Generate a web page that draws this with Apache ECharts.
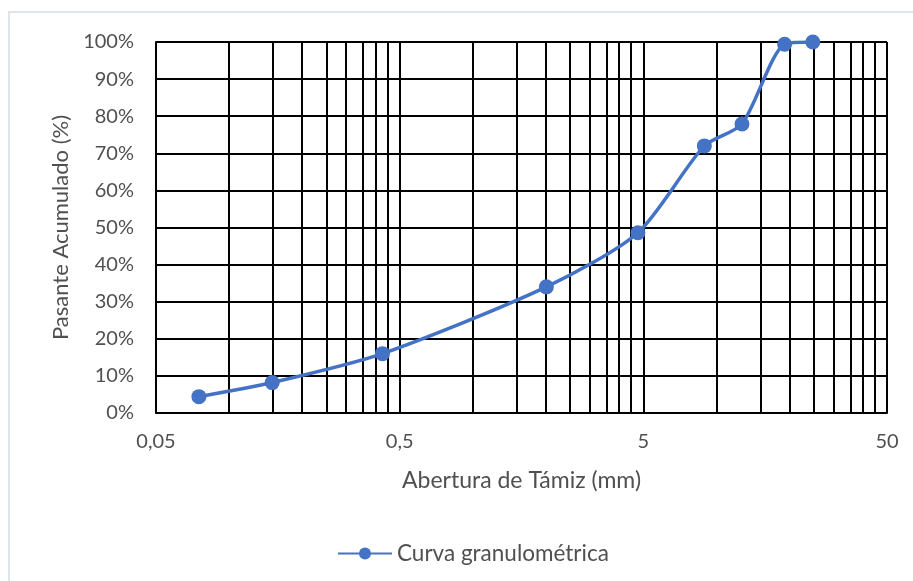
<!DOCTYPE html>
<html lang="es">
<head>
    <meta charset="UTF-8">
    <title>Curva granulométrica</title>
    <script src="https://cdn.jsdelivr.net/npm/echarts@6.0.0/dist/echarts.min.js"></script>
    <style>
        html, body { margin: 0; padding: 0; background: #fff; }
        #chart { width: 913px; height: 581px; }
    </style>
</head>
<body>
<div id="chart"></div>
<script>
    // abertura del tamiz (mm) y porcentaje que pasa
    var aberturas = [0.075, 0.15, 0.425, 2.0, 4.75, 8.9, 12.7, 19.0, 24.8];
    var pasante = [4.4, 8.2, 16.0, 34.0, 48.6, 72.0, 77.9, 99.4, 100];
    var xTicks = [0.05, 0.5, 5, 50];
    var minorMult = [2, 3, 4, 5, 6, 7, 8, 9];

    // eje log: u = log10(x / 0.05), asi 0,05 -> 0 y 50 -> 3
    var base = xTicks[0];
    function toU(x) { return Math.log10(x / base); }

    var puntos = aberturas.map(function (x, i) { return [toU(x), pasante[i]]; });

    // lineas verticales menores dentro de cada decada
    var minorLines = [];
    for (var d = 0; d < xTicks.length - 1; d++) {
        minorMult.forEach(function (k) {
            minorLines.push({ xAxis: toU(xTicks[d] * k) });
        });
    }

    var font = 'Lato, "Noto Sans", sans-serif';
    var txt = '#505050';

    var chart = echarts.init(document.getElementById('chart'));
    chart.setOption({
        animation: false,
        graphic: [{
            type: 'rect',
            shape: { x: 9, y: 12, width: 1000, height: 1000 },
            style: { fill: 'none', stroke: '#dfe3ea', lineWidth: 2 },
            silent: true
        }],
        grid: { left: 156, right: 26, top: 42, bottom: 168, containLabel: false },
        legend: {
            data: ['Curva granulométrica'],
            left: 332,
            top: 537,
            itemWidth: 54,
            itemHeight: 15,
            itemGap: 4,
            textStyle: { fontFamily: font, fontSize: 22.5, color: txt }
        },
        xAxis: {
            type: 'value',
            min: 0,
            max: 3,
            interval: 1,
            name: 'Abertura de Támiz (mm)',
            nameLocation: 'middle',
            nameGap: 56,
            nameTextStyle: { fontFamily: font, fontSize: 23, color: txt },
            axisLine: { show: true, lineStyle: { color: '#000', width: 2 } },
            axisTick: { show: false },
            axisLabel: {
                margin: 19,
                fontFamily: font,
                fontSize: 20,
                color: txt,
                formatter: function (u) {
                    var v = base * Math.pow(10, Math.round(u));
                    return String(+v.toFixed(3)).replace('.', ',');
                }
            },
            splitLine: { show: true, lineStyle: { color: '#000', width: 2 } }
        },
        yAxis: {
            type: 'value',
            min: 0,
            max: 100,
            interval: 10,
            name: 'Pasante Acumulado (%)',
            nameLocation: 'middle',
            nameGap: 83,
            nameTextStyle: { fontFamily: font, fontSize: 22, color: txt },
            axisLine: { show: true, lineStyle: { color: '#000', width: 2 } },
            axisTick: { show: false },
            axisLabel: {
                margin: 22,
                fontFamily: font,
                fontSize: 20,
                color: txt,
                formatter: '{value}%'
            },
            splitLine: { show: true, lineStyle: { color: '#000', width: 2 } }
        },
        series: [{
            name: 'grid-minor',
            type: 'line',
            data: [],
            z: 1,
            silent: true,
            markLine: {
                silent: true,
                symbol: 'none',
                label: { show: false },
                lineStyle: { color: '#000', width: 2, type: 'solid' },
                data: minorLines
            }
        }, {
            name: 'Curva granulométrica',
            type: 'line',
            z: 5,
            smooth: 0.25,
            clip: true,
            data: puntos,
            symbol: 'circle',
            symbolSize: 15,
            lineStyle: { color: '#4472C4', width: 3.5 },
            itemStyle: { color: '#4472C4' }
        }]
    });
</script>
</body>
</html>
